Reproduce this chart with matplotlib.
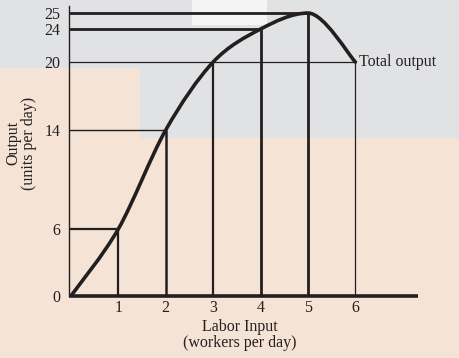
import matplotlib
matplotlib.use("Agg")
import numpy as np
import matplotlib.pyplot as plt
from matplotlib.patches import Rectangle, PathPatch
from matplotlib.path import Path
from matplotlib.transforms import IdentityTransform

labor = [0, 1, 2, 3, 4, 5, 6]
output = [0, 6, 14, 20, 24, 25, 20]
xticks = [1, 2, 3, 4, 5, 6]
yticks = [0, 6, 14, 20, 24, 25]

plt.rcParams['font.family'] = ['Liberation Serif', 'DejaVu Serif']

W, H = 460, 358
fig = plt.figure(figsize=(W / 100, H / 100), dpi=100)
fig.patch.set_facecolor('#f5e3d5')

# background panels (pixel coords, y from top)
bg = fig.add_axes([0, 0, 1, 1])
bg.set_xlim(0, W)
bg.set_ylim(H, 0)
bg.axis('off')
bg.add_patch(Rectangle((0, 0), 140, 68, facecolor='#e1e2e4', edgecolor='none'))
bg.add_patch(Rectangle((140, 0), 320, 138, facecolor='#e1e2e4', edgecolor='none'))
bg.add_patch(Rectangle((192, 0), 75, 25, facecolor='#f3f4f4', edgecolor='none'))

ax = fig.add_axes([69 / W, 1 - 296 / H, (418 - 69) / W, (296 - 6) / H])
ax.set_facecolor('none')

# schematic (non-uniform) vertical scale as drawn in the original
_kd = np.array([0, 6, 14, 20, 24, 25, 26], dtype=float)
_kp = np.array([0, 67, 166, 234, 267, 283, 299], dtype=float)
ax.set_yscale('function', functions=(lambda v: np.interp(v, _kd, _kp),
                                     lambda p: np.interp(p, _kp, _kd)))
ax.set_xlim(-0.04, 7.32)
ax.set_ylim(0, 25.44)

ink = '#231f20'

# guide lines
hlw = {6: 1.6, 14: 1.0, 20: 0.9, 24: 2.0, 25: 2.0}
vlw = {1: 1.6, 2: 1.8, 3: 1.6, 4: 2.0, 5: 2.0, 6: 0.9}
for x, y in zip(labor[1:], output[1:]):
    ax.plot([x, x], [0, y], color=ink, lw=vlw[x], solid_capstyle='butt')
hend = {6: 1, 14: 2, 20: 6, 24: 4, 25: 5}
for y, xe in hend.items():
    ax.plot([-0.04, xe], [y, y], color=ink, lw=hlw[y], solid_capstyle='butt')

# smooth curve through the data points (Catmull-Rom -> Bezier), in display space
disp = ax.transData.transform(np.column_stack([labor, output]))
pts = [tuple(p) for p in disp]
verts = [pts[0]]
codes = [Path.MOVETO]
n = len(pts)
for i in range(n - 1):
    p0 = pts[i - 1] if i > 0 else pts[i]
    p1 = pts[i]
    p2 = pts[i + 1]
    p3 = pts[i + 2] if i + 2 < n else pts[i + 1]
    t = 0.16
    c1 = (p1[0] + (p2[0] - p0[0]) * t, p1[1] + (p2[1] - p0[1]) * t)
    c2 = (p2[0] - (p3[0] - p1[0]) * t, p2[1] - (p3[1] - p1[1]) * t)
    if i == 4:
        c2 = (p2[0] - 16, p2[1])
    if i == 5:
        c1 = (p1[0] + 16, p1[1])
    verts += [c1, c2, p2]
    codes += [Path.CURVE4] * 3
ax.add_patch(PathPatch(Path(verts, codes), facecolor='none', edgecolor=ink,
                       lw=2.6, capstyle='round', joinstyle='round', zorder=3,
                       transform=IdentityTransform()))

for s in ['top', 'right']:
    ax.spines[s].set_visible(False)
ax.spines['left'].set_linewidth(1.0)
ax.spines['left'].set_color(ink)
ax.spines['bottom'].set_linewidth(2.6)
ax.spines['bottom'].set_color(ink)
ax.spines['bottom'].set_capstyle('butt')

ax.set_xticks(xticks)
ax.set_xticklabels([str(v) for v in xticks])
ax.set_yticks(yticks)
ax.set_yticklabels([str(v) for v in yticks])
ax.minorticks_off()
ax.tick_params(length=0, labelsize=11.5, colors=ink)
ax.tick_params(axis='x', pad=3)
ax.tick_params(axis='y', pad=6)

ax.text(6.08, 20, 'Total output', fontsize=11.5, color=ink, va='center', ha='left')

fig.text(240 / W, 1 - 335 / H, 'Labor Input\n(workers per day)', ha='center', va='center',
         fontsize=11.5, color=ink, linespacing=0.95)
fig.text(21 / W, 1 - 143 / H, 'Output\n(units per day)', ha='center', va='center',
         rotation=90, fontsize=11.5, color=ink, linespacing=0.95)

fig.savefig('out.png', dpi=100, facecolor=fig.get_facecolor())
